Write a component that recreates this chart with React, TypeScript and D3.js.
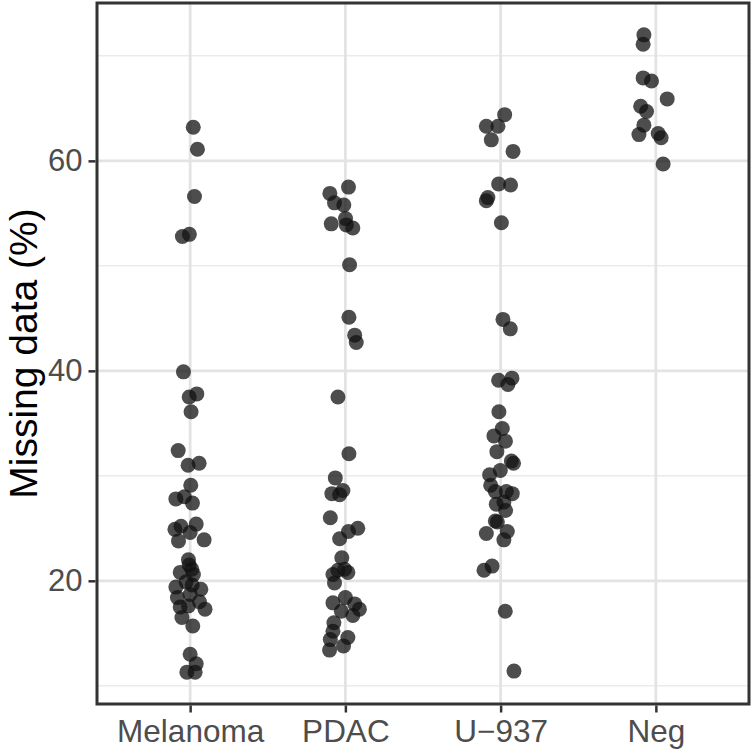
import React, { useEffect, useRef } from "react";
import * as d3 from "d3";

// categories on the x axis
const categories = ["Melanoma", "PDAC", "U\u2212937", "Neg"];

// missing data (%) per sample, with its horizontal jitter (in category units)
const melanomaValues = [63.2, 61.1, 56.6, 53.0, 52.8, 39.9, 37.8, 37.5, 36.1, 32.4, 31.0, 31.2, 29.1, 27.8, 28.0, 27.4, 25.4, 24.9, 25.2, 24.6, 23.9, 23.8, 22.0, 21.5, 21.1, 20.8, 20.6, 19.9, 19.6, 19.4, 19.2, 18.4, 18.7, 18.0, 17.3, 17.5, 17.6, 16.5, 15.7, 13.0, 12.1, 11.3, 11.3];
const melanomaJitter = [0.02, 0.047, 0.028, -0.005, -0.05, -0.043, 0.043, -0.006, 0.006, -0.077, -0.013, 0.058, 0.004, -0.092, -0.037, 0.015, 0.039, -0.098, -0.059, 0, 0.09, -0.075, -0.011, -0.006, 0.011, -0.064, 0.021, -0.026, 0.013, -0.092, 0.069, -0.082, 0, 0.06, 0.096, -0.064, -0.011, -0.053, 0.017, 0, 0.039, -0.021, 0.032];

const pdacValues = [57.5, 56.9, 56.0, 55.8, 54.5, 54.0, 53.9, 53.6, 50.1, 45.1, 43.4, 42.7, 37.5, 32.1, 29.8, 28.3, 28.6, 28.2, 26.0, 24.7, 25.0, 24.0, 22.2, 20.6, 21.0, 21.1, 20.8, 19.8, 17.9, 18.4, 17.1, 17.8, 17.3, 16.7, 16.0, 15.2, 14.6, 14.4, 13.4, 13.8];
const pdacJitter = [0.02, -0.1, -0.07, -0.01, 0.001, -0.091, 0.006, 0.048, 0.027, 0.023, 0.06, 0.07, -0.048, 0.023, -0.065, -0.087, -0.016, -0.037, -0.097, 0.02, 0.08, -0.037, -0.023, -0.08, -0.048, -0.005, 0.016, -0.07, -0.08, 0, -0.026, 0.06, 0.09, 0.048, -0.074, -0.08, 0.016, -0.097, -0.102, -0.012];

const u937Values = [64.4, 63.3, 63.3, 62.0, 60.9, 57.8, 57.7, 56.5, 56.2, 54.1, 44.9, 44.0, 39.1, 39.3, 38.7, 36.1, 34.5, 33.8, 33.3, 32.3, 31.4, 31.2, 30.5, 30.1, 29.1, 28.5, 28.5, 28.3, 27.3, 27.5, 26.7, 25.7, 25.6, 24.5, 24.7, 23.9, 21.4, 21.0, 17.1, 11.4];
const u937Jitter = [0.026, -0.092, -0.017, -0.06, 0.08, -0.013, 0.064, -0.082, -0.092, 0.005, 0.015, 0.062, -0.013, 0.073, 0.047, -0.011, 0.011, -0.043, 0.031, -0.024, 0.069, 0.083, -0.002, -0.071, -0.064, -0.034, 0.037, 0.075, -0.028, 0.021, 0.032, -0.034, -0.021, -0.092, 0.043, 0.021, -0.055, -0.107, 0.03, 0.086];

const negValues = [72.0, 71.1, 67.9, 67.6, 65.9, 65.2, 64.7, 63.4, 62.5, 62.6, 62.2, 59.7];
const negJitter = [-0.077, -0.082, -0.082, -0.028, 0.073, -0.098, -0.06, -0.077, -0.109, 0.015, 0.034, 0.047];

const yTicks = [20, 40, 60];
const yMinor = [10, 30, 50, 70];

const App = () => {
  const ref = useRef<SVGSVGElement>(null);

  useEffect(() => {
    const width = 754;
    const height = 750;
    const left = 97, right = 749, top = 3, bottom = 704;

    const svg = d3.select(ref.current);
    svg.selectAll("*").remove();
    svg.attr("width", width).attr("height", height);

    const groups = [
      { cat: categories[0], values: melanomaValues, jitter: melanomaJitter },
      { cat: categories[1], values: pdacValues, jitter: pdacJitter },
      { cat: categories[2], values: u937Values, jitter: u937Jitter },
      { cat: categories[3], values: negValues, jitter: negJitter },
    ];
    const points = groups.flatMap(g => g.values.map((v, i) => ({ cat: g.cat, v, j: g.jitter[i] })));

    const all = points.map(p => p.v);
    const lo = d3.min(all)!, hi = d3.max(all)!;
    const pad = (hi - lo) * 0.05;

    const x = d3.scalePoint<string>().domain(categories).range([left, right]).padding(0.6);
    const step = x.step();
    const y = d3.scaleLinear().domain([lo - pad, hi + pad]).range([bottom, top]);

    const grid = svg.append("g");
    grid.selectAll("line.minor").data(yMinor).join("line")
      .attr("x1", left).attr("x2", right)
      .attr("y1", d => y(d)).attr("y2", d => y(d))
      .attr("stroke", "#ebebeb").attr("stroke-width", 1.5);
    grid.selectAll("line.major").data(yTicks).join("line")
      .attr("x1", left).attr("x2", right)
      .attr("y1", d => y(d)).attr("y2", d => y(d))
      .attr("stroke", "#e3e3e3").attr("stroke-width", 2.8);
    grid.selectAll("line.vx").data(categories).join("line")
      .attr("x1", d => x(d)!).attr("x2", d => x(d)!)
      .attr("y1", top).attr("y2", bottom)
      .attr("stroke", "#e3e3e3").attr("stroke-width", 2.8);

    svg.append("g").selectAll("circle").data(points).join("circle")
      .attr("cx", d => x(d.cat)! + d.j * step)
      .attr("cy", d => y(d.v))
      .attr("r", 7.5)
      .attr("fill", "#111")
      .attr("fill-opacity", 0.75);

    svg.append("rect")
      .attr("x", left).attr("y", top)
      .attr("width", right - left).attr("height", bottom - top)
      .attr("fill", "none").attr("stroke", "#333333").attr("stroke-width", 3);

    const yAxis = svg.append("g")
      .attr("transform", `translate(${left - 1.5},0)`)
      .call(d3.axisLeft(y).tickValues(yTicks).tickSize(7).tickPadding(6));
    yAxis.select(".domain").remove();
    yAxis.selectAll(".tick line").attr("stroke", "#333333").attr("stroke-width", 2.5);
    yAxis.selectAll(".tick text")
      .attr("fill", "#4d4d4d")
      .style("font", "31px 'Liberation Sans', Arial, sans-serif");

    const xAxis = svg.append("g")
      .attr("transform", `translate(0,${bottom + 1.5})`)
      .call(d3.axisBottom(x).tickSize(7).tickPadding(6));
    xAxis.select(".domain").remove();
    xAxis.selectAll(".tick line").attr("stroke", "#333333").attr("stroke-width", 2.5);
    xAxis.selectAll(".tick text")
      .attr("fill", "#4d4d4d")
      .attr("dy", "0.75em")
      .style("font", "31.5px 'Liberation Sans', Arial, sans-serif");

    svg.append("text")
      .attr("transform", `translate(37,${(top + bottom) / 2}) rotate(-90)`)
      .attr("text-anchor", "middle")
      .attr("fill", "#000")
      .style("font", "39px 'Liberation Sans', Arial, sans-serif")
      .text("Missing data (%)");
  }, []);

  return <svg ref={ref} style={{ position: "absolute", left: 0, top: 0, display: "block" }}></svg>;
};

export default App;
